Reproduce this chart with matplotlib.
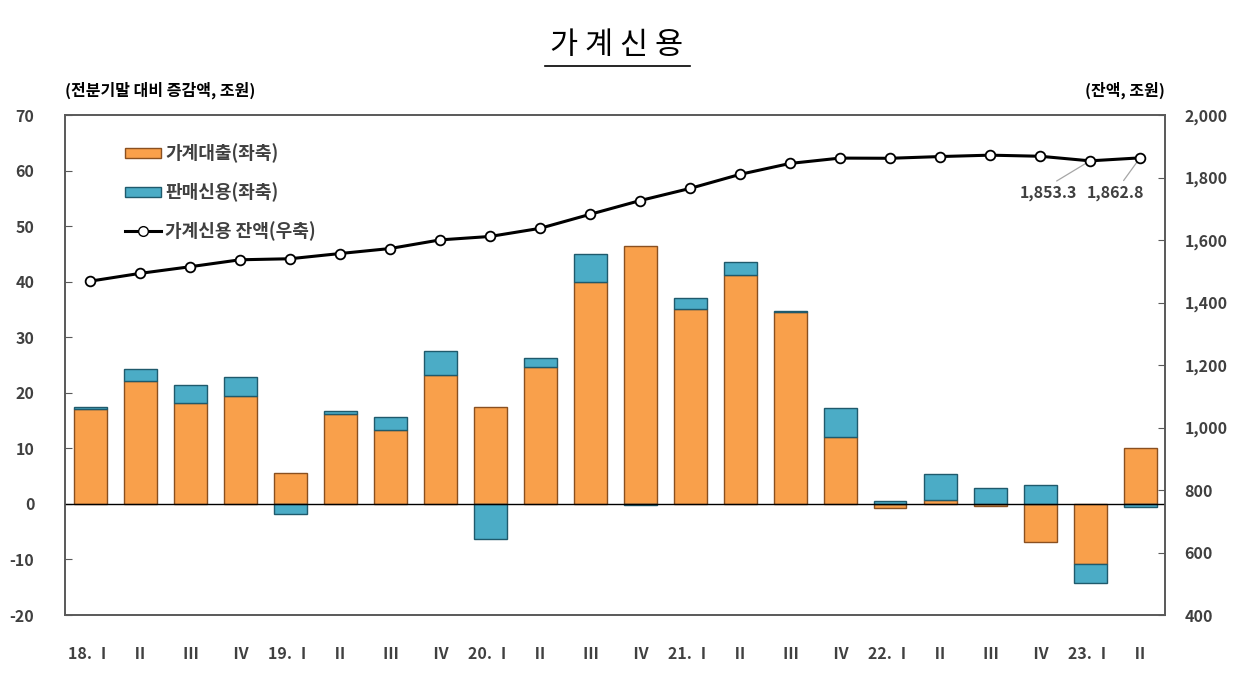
import numpy as np
import matplotlib
matplotlib.use('Agg')
import matplotlib.pyplot as plt
from matplotlib.lines import Line2D
from matplotlib.patches import Patch

plt.rcParams['font.family'] = ['Noto Sans CJK KR', 'DejaVu Sans']
plt.rcParams['axes.unicode_minus'] = False

# quarters
labels = ['18. Ⅰ', 'Ⅱ', 'Ⅲ', 'Ⅳ', '19. Ⅰ', 'Ⅱ', 'Ⅲ', 'Ⅳ', '20. Ⅰ', 'Ⅱ', 'Ⅲ', 'Ⅳ',
          '21. Ⅰ', 'Ⅱ', 'Ⅲ', 'Ⅳ', '22. Ⅰ', 'Ⅱ', 'Ⅲ', 'Ⅳ', '23. Ⅰ', 'Ⅱ']

# change vs previous quarter end (trillion won)
loans = [17.1, 22.2, 18.2, 19.5, 5.5, 16.2, 13.3, 23.2, 17.5, 24.6, 40.0, 46.4,
         35.0, 41.2, 34.5, 12.1, -0.8, 0.7, -0.3, -6.8, -10.9, 10.0]
sales_credit = [0.4, 2.0, 3.2, 3.3, -1.9, 0.6, 2.4, 4.3, -6.3, 1.6, 5.0, -0.2,
                2.0, 2.4, 0.3, 5.2, 0.6, 4.7, 2.9, 3.4, -3.3, -0.6]

# household credit balance (trillion won)
balance = [1468.2, 1493.2, 1514.4, 1536.7, 1540.0, 1556.7, 1572.7, 1600.3,
           1611.3, 1637.3, 1682.1, 1726.1, 1765.0, 1810.0, 1845.0, 1862.1,
           1861.5, 1867.0, 1871.5, 1868.0, 1853.3, 1862.8]

orange = '#F9A04B'
blue = '#4BACC6'
txt = '#404040'

x = np.arange(len(labels))
lo = np.array(loans)
sc = np.array(sales_credit)

fig = plt.figure(figsize=(12.55, 6.84), dpi=100)
ax = fig.add_axes([65 / 1255, 1 - 615 / 684, 1100 / 1255, 500 / 684])

w = 0.66
ax.bar(x, lo, w, color=orange, edgecolor='#8A5020', linewidth=1.0, zorder=2)
sc_bottom = np.where(sc >= 0, np.maximum(lo, 0), np.minimum(lo, 0))
ax.bar(x, sc, w, bottom=sc_bottom, color=blue, edgecolor='#1F5A6C', linewidth=1.0, zorder=2)
ax.axhline(0, color='black', linewidth=1, zorder=3)

ax.set_xlim(-0.5, len(labels) - 0.5)
ax.set_ylim(-20, 70)
ax.set_yticks(range(-20, 71, 10))
ax.set_xticks(x)
ax.set_xticklabels(labels)
ax.tick_params(axis='x', length=0, pad=22)
ax.tick_params(axis='y', direction='in', length=5, color='#595959', pad=22)
for t in ax.get_xticklabels() + ax.get_yticklabels():
    t.set_fontsize(11.5)
    t.set_fontweight('bold')
    t.set_color(txt)
for s in ax.spines.values():
    s.set_color('#595959')
    s.set_linewidth(1.2)

ax2 = ax.twinx()
ax2.plot(x, balance, color='black', linewidth=2.2, marker='o', markersize=7,
         markerfacecolor='white', markeredgecolor='black', markeredgewidth=1.3, zorder=4)
ax2.set_ylim(400, 2000)
ax2.set_yticks(range(400, 2001, 200))
ax2.set_yticklabels([f'{v:,}' for v in range(400, 2001, 200)])
ax2.tick_params(axis='y', direction='in', length=5, color='#595959', pad=14)
for t in ax2.get_yticklabels():
    t.set_fontsize(11.5)
    t.set_fontweight('bold')
    t.set_color(txt)
for s in ax2.spines.values():
    s.set_color('#595959')
    s.set_linewidth(1.2)

# labels for the last two balances
ax2.annotate(f'{balance[-2]:,.1f}', xy=(x[-2], balance[-2]), xytext=(x[-2] - 0.84, 1752),
             ha='center', va='center', fontsize=11.5, fontweight='bold', color=txt,
             arrowprops=dict(arrowstyle='-', color='#A6A6A6', lw=0.9, shrinkA=1, shrinkB=4,
                             relpos=(0.55, 1.0)))
ax2.annotate(f'{balance[-1]:,.1f}', xy=(x[-1], balance[-1]), xytext=(x[-1] - 0.5, 1752),
             ha='center', va='center', fontsize=11.5, fontweight='bold', color=txt,
             arrowprops=dict(arrowstyle='-', color='#A6A6A6', lw=0.9, shrinkA=1, shrinkB=4,
                             relpos=(0.6, 1.0)))

handles = [Patch(facecolor=orange, edgecolor='#8A5020'),
           Patch(facecolor=blue, edgecolor='#1F5A6C'),
           Line2D([], [], color='black', linewidth=2.2, marker='o', markersize=7,
                  markerfacecolor='white', markeredgecolor='black')]
leg = ax.legend(handles, ['가계대출(좌축)', '판매신용(좌축)', '가계신용 잔액(우축)'],
                loc='upper left', bbox_to_anchor=(0.04, 0.975), frameon=False,
                prop={'size': 13, 'weight': 'bold'}, labelspacing=1.05,
                handlelength=2.0, handleheight=0.5, handletextpad=0.2)
for t in leg.get_texts():
    t.set_color(txt)

fig.text(617 / 1255, 1 - 46 / 684, '가 계 신 용', ha='center', va='center', fontsize=22, color='black')
fig.add_artist(Line2D([545 / 1255, 690 / 1255], [1 - 66 / 684, 1 - 66 / 684], color='black', lw=1.2))
fig.text(65 / 1255, 1 - 90 / 684, '(전분기말 대비 증감액, 조원)', ha='left', va='center',
         fontsize=11.5, fontweight='bold', color='black')
fig.text(1165 / 1255, 1 - 90 / 684, '(잔액, 조원)', ha='right', va='center',
         fontsize=11.5, fontweight='bold', color='black')

fig.savefig('out.png', dpi=100)
